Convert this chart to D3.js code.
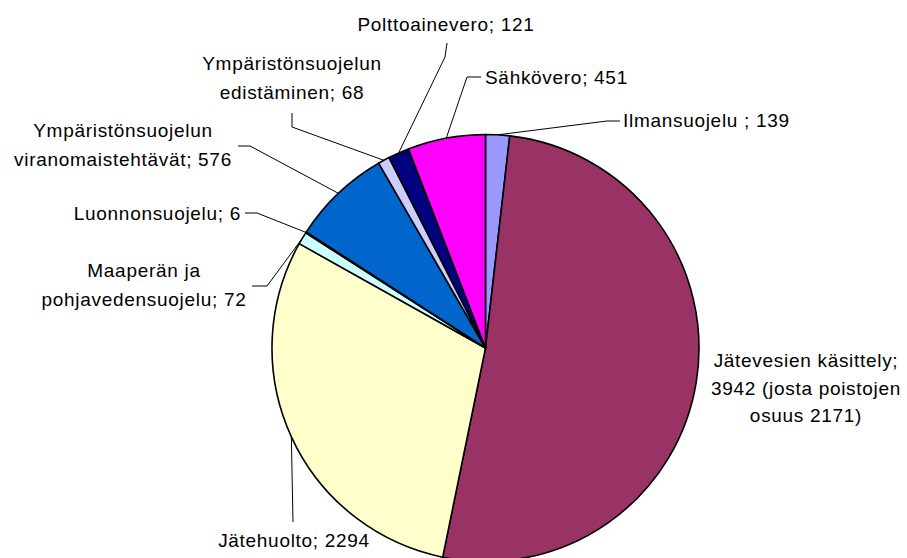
<!DOCTYPE html>
<html>
<head>
<meta charset="utf-8">
<script src="https://cdn.jsdelivr.net/npm/d3@7"></script>
<style>
    body { margin: 0; background: #fff; }
    text { font-family: Arial, "Liberation Sans", sans-serif; font-size: 19px; fill: #000; letter-spacing: 0.7px; }
</style>
</head>
<body>
<div id="plot"></div>
<script>
let svgWidth = 907;
let svgHeight = 558;

// Slices, clockwise from 12 o'clock
let categories = [
    'Ilmansuojelu ',
    'Jätevesien käsittely',
    'Jätehuolto',
    'Maaperän ja pohjavedensuojelu',
    'Luonnonsuojelu',
    'Ympäristönsuojelun viranomaistehtävät',
    'Ympäristönsuojelun edistäminen',
    'Polttoainevero',
    'Sähkövero'
];
let values = [139, 3942, 2294, 72, 6, 576, 68, 121, 451];
let colors = ['#9999ff', '#993366', '#ffffcc', '#ccffff', '#660066', '#0066cc', '#ccccff', '#000080', '#ff00ff'];

// Label text lines per slice
let labelLines = [
    ['Ilmansuojelu ; 139'],
    ['Jätevesien käsittely;', '3942 (josta poistojen', 'osuus 2171)'],
    ['Jätehuolto; 2294'],
    ['Maaperän ja', 'pohjavedensuojelu; 72'],
    ['Luonnonsuojelu; 6'],
    ['Ympäristönsuojelun', 'viranomaistehtävät; 576'],
    ['Ympäristönsuojelun', 'edistäminen; 68'],
    ['Polttoainevero; 121'],
    ['Sähkövero; 451']
];

// Label placement: x, first baseline, line step, anchor, leader bend points (null = no leader)
let labelLayout = [
    { x: 623, y: 127, dy: 29, anchor: 'start', leader: [[607, 121], [620, 121]] },
    { x: 806, y: 367, dy: 27.5, anchor: 'middle', leader: null },
    { x: 294, y: 547, dy: 29, anchor: 'middle', leader: [[293, 522]] },
    { x: 144, y: 277, dy: 29, anchor: 'middle', leader: [[267, 286], [252, 286]] },
    { x: 241, y: 220, dy: 29, anchor: 'end', leader: [[257, 213], [245, 213]] },
    { x: 123, y: 137, dy: 29, anchor: 'middle', leader: [[250, 146], [238, 146]] },
    { x: 292, y: 70, dy: 29, anchor: 'middle', leader: [[292, 127], [292, 113]] },
    { x: 446, y: 31, dy: 29, anchor: 'middle', leader: [[445, 57], [447, 43]] },
    { x: 485, y: 84, dy: 29, anchor: 'start', leader: [[467, 77], [481, 77]] }
];

let cx = 485.5;
let cy = 348;
let radius = 213.5;

let $svg = d3.select('#plot')
    .append('svg')
    .attr('width', svgWidth)
    .attr('height', svgHeight);

let $pieGroup = $svg.append('g')
    .attr('transform', `translate(${cx}, ${cy})`);

let pie = d3.pie().sort(null).value(d => d);
let arcs = pie(values);

let arc = d3.arc().innerRadius(0).outerRadius(radius);
let edgeArc = d3.arc().innerRadius(radius).outerRadius(radius);

$pieGroup.selectAll('path')
    .data(arcs)
    .enter()
    .append('path')
    .attr('d', arc)
    .attr('fill', (d, i) => colors[i])
    .attr('stroke', '#000')
    .attr('stroke-width', 1.6)
    .attr('stroke-linejoin', 'round');

// Leader lines from the middle of each slice's rim
let line = d3.line();
arcs.forEach((d, i) => {
    let layout = labelLayout[i];
    if (!layout.leader) return;
    let c = edgeArc.centroid(d);
    let pts = [[cx + c[0], cy + c[1]]].concat(layout.leader);
    $svg.append('path')
        .attr('d', line(pts))
        .attr('fill', 'none')
        .attr('stroke', '#000')
        .attr('stroke-width', 1);
});

// Labels
labelLines.forEach((lines, i) => {
    let layout = labelLayout[i];
    let $text = $svg.append('text')
        .attr('text-anchor', layout.anchor);
    lines.forEach((t, j) => {
        $text.append('tspan')
            .attr('x', layout.x)
            .attr('y', layout.y + j * layout.dy)
            .text(t);
    });
});
</script>
</body>
</html>
